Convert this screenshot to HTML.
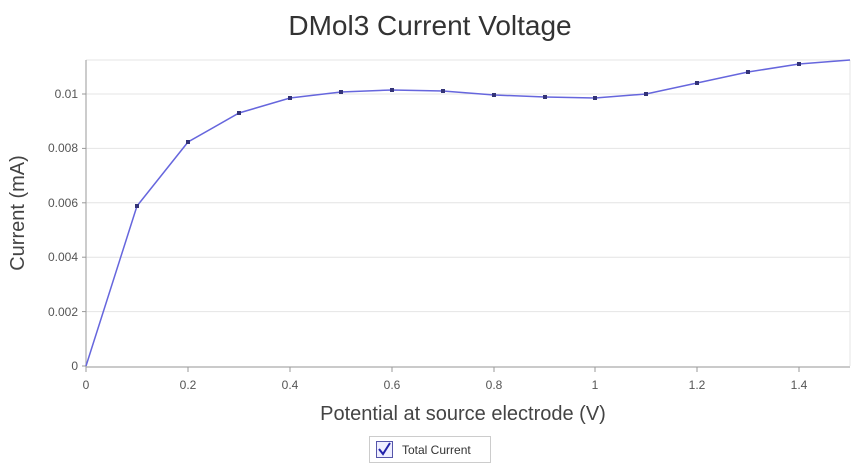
<!DOCTYPE html>
<html><head><meta charset="utf-8"><style>body{margin:0;background:#fff}svg{display:block}text{font-family:"Liberation Sans",sans-serif}</style></head><body>
<svg width="860" height="472" viewBox="0 0 860 472" xmlns="http://www.w3.org/2000/svg">
<rect width="860" height="472" fill="#fff"/>
<text x="430" y="35" font-size="28" fill="#333" text-anchor="middle">DMol3 Current Voltage</text>
<g stroke="#e4e4e4" stroke-width="1">
<line x1="86" y1="60" x2="850" y2="60"/>
<line x1="86" y1="94" x2="850" y2="94"/>
<line x1="86" y1="148.4" x2="850" y2="148.4"/>
<line x1="86" y1="202.8" x2="850" y2="202.8"/>
<line x1="86" y1="257.2" x2="850" y2="257.2"/>
<line x1="86" y1="311.6" x2="850" y2="311.6"/>
<line x1="850" y1="60" x2="850" y2="366"/>
</g>
<g stroke="#aaa" stroke-width="1.2">
<line x1="86" y1="60" x2="86" y2="367"/>
<line x1="86" y1="367" x2="850" y2="367"/>
</g>
<g stroke="#999" stroke-width="1">
<line x1="82" y1="94" x2="86" y2="94"/><line x1="82" y1="148.4" x2="86" y2="148.4"/><line x1="82" y1="202.8" x2="86" y2="202.8"/><line x1="82" y1="257.2" x2="86" y2="257.2"/><line x1="82" y1="311.6" x2="86" y2="311.6"/><line x1="82" y1="366" x2="86" y2="366"/>
<line x1="86" y1="367" x2="86" y2="372"/><line x1="188" y1="367" x2="188" y2="372"/><line x1="290" y1="367" x2="290" y2="372"/><line x1="392" y1="367" x2="392" y2="372"/><line x1="494" y1="367" x2="494" y2="372"/><line x1="595" y1="367" x2="595" y2="372"/><line x1="697" y1="367" x2="697" y2="372"/><line x1="799" y1="367" x2="799" y2="372"/>
</g>
<g font-size="12" fill="#555" text-anchor="end">
<text x="78" y="98">0.01</text><text x="78" y="152">0.008</text><text x="78" y="207">0.006</text><text x="78" y="261">0.004</text><text x="78" y="316">0.002</text><text x="78" y="370">0</text>
</g>
<g font-size="12" fill="#555" text-anchor="middle">
<text x="86" y="389">0</text><text x="188" y="389">0.2</text><text x="290" y="389">0.4</text><text x="392" y="389">0.6</text><text x="494" y="389">0.8</text><text x="595" y="389">1</text><text x="697" y="389">1.2</text><text x="799" y="389">1.4</text>
</g>
<text x="463" y="420" font-size="20" fill="#444" text-anchor="middle">Potential at source electrode (V)</text>
<text transform="translate(24,213) rotate(-90)" font-size="20" fill="#444" text-anchor="middle">Current (mA)</text>
<polyline fill="none" stroke="#6666dd" stroke-width="1.5" points="86,366 137,206 188,142 239,113 290,98 341,92 392,90 443,91 494,95 545,97 595,98 646,94 697,83 748,72 799,64 850,60"/>
<g fill="#333377">
<rect x="135" y="204" width="4" height="4"/><rect x="186" y="140" width="4" height="4"/><rect x="237" y="111" width="4" height="4"/><rect x="288" y="96" width="4" height="4"/><rect x="339" y="90" width="4" height="4"/><rect x="390" y="88" width="4" height="4"/><rect x="441" y="89" width="4" height="4"/><rect x="492" y="93" width="4" height="4"/><rect x="543" y="95" width="4" height="4"/><rect x="593" y="96" width="4" height="4"/><rect x="644" y="92" width="4" height="4"/><rect x="695" y="81" width="4" height="4"/><rect x="746" y="70" width="4" height="4"/><rect x="797" y="62" width="4" height="4"/>
</g>
<rect x="369.5" y="436.5" width="121" height="26" fill="#fff" stroke="#ccc"/>
<rect x="376.5" y="441.5" width="16" height="16" fill="#eef" stroke="#5555aa"/>
<path d="M379 449 L383 454 L390 443" fill="none" stroke="#2222aa" stroke-width="2"/>
<text x="402" y="454" font-size="12" fill="#333">Total Current</text>
</svg>
</body></html>
